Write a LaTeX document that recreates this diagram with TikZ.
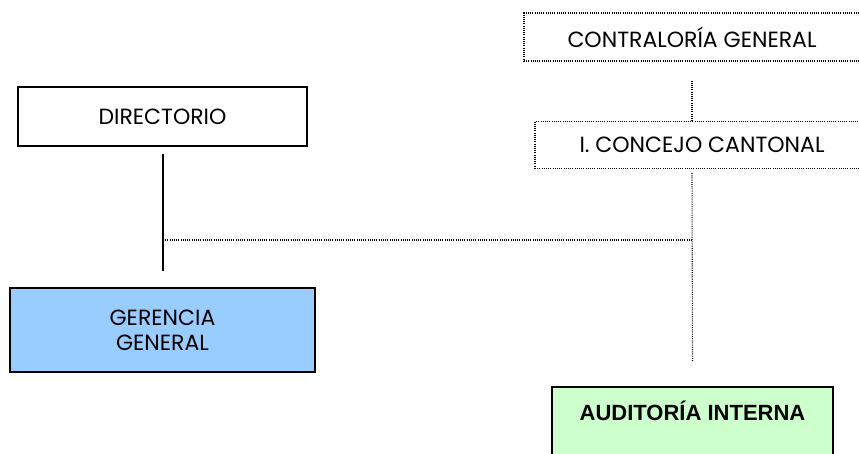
\documentclass[tikz,border=0pt]{standalone}
\usepackage{fontspec}
\setmainfont{Poppins}
\newfontfamily\boldfont{Liberation Sans}
\usetikzlibrary{positioning}
\definecolor{gerblue}{HTML}{99CCFF}
\definecolor{audgreen}{HTML}{CCFFCC}
\tikzset{
  dotline/.style={line width=1.1pt, dash pattern=on 1pt off 1.2pt},
  solidline/.style={line width=2pt},
  extbox/.style={draw, dotline, minimum height=48pt, align=center, inner sep=0pt},
  orgbox/.style={draw, line width=2pt, fill=white, align=center, inner sep=0pt},
  gerbox/.style={draw, line width=2.5pt, fill=gerblue, align=center, inner sep=0pt},
  audbox/.style={draw, line width=1.5pt, fill=audgreen, align=center, inner ysep=0pt, font=\boldfont\bfseries\fontsize{22}{25}\selectfont}
}

\begin{document}
\begin{tikzpicture}[x=1pt, y=-1pt, every node/.style={font=\fontsize{22}{25}\selectfont}]
  \useasboundingbox (0,0) rectangle (859,453);
  \node[extbox, minimum width=336pt] (contra) at (692,37) {CONTRALORÍA GENERAL};
  \node[extbox, minimum width=334pt, minimum height=47pt] (concejo) at (702,145) {I. CONCEJO CANTONAL};
  \node[orgbox, minimum width=289pt, minimum height=59pt] (dir) at (162.5,116.5) {DIRECTORIO};
  \node[gerbox, minimum width=305pt, minimum height=84pt] (ger) at (162.5,330) {GERENCIA\\GENERAL};
  \node[audbox, anchor=north, minimum width=281pt, text height=34pt, text depth=50pt] (aud) at (692.5,386) {AUDITORÍA INTERNA};
  \coordinate (j) at (163,240);
  \coordinate (k) at (692,240);
  \draw[dotline] ([yshift=-19pt]contra.south) -- (contra.south |- concejo.north);
  \draw[dotline] ([yshift=-4pt]concejo.south -| contra.south) -- ([yshift=24pt]aud.north);
  \draw[solidline] ([yshift=-7pt]dir.south) -- ([yshift=16pt]ger.north);
  \draw[dotline] (j) -- (k);
\end{tikzpicture}
\end{document}
